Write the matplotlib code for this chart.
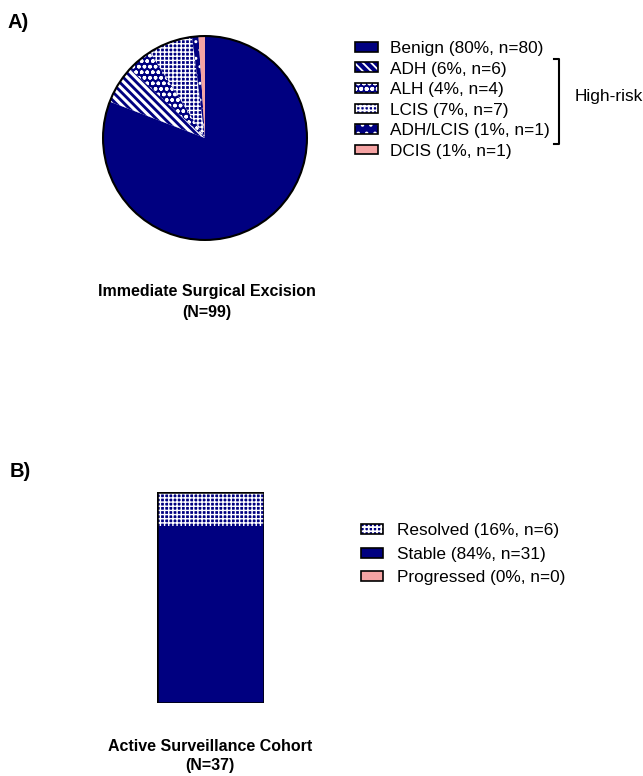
import matplotlib
matplotlib.use("Agg")
import matplotlib.pyplot as plt
from matplotlib.patches import Rectangle, Circle
from matplotlib.lines import Line2D
from matplotlib.legend_handler import HandlerTuple

plt.rcParams['font.family'] = ['Liberation Sans', 'DejaVu Sans']
plt.rcParams['hatch.color'] = 'white'
plt.rcParams['hatch.linewidth'] = 1.3

NAVY = '#000080'
PINK = '#f5a3a3'

# ---- panel A: immediate surgical excision ----
excision_labels = ['Benign', 'ADH', 'ALH', 'LCIS', 'ADH/LCIS', 'DCIS']
excision_counts = [80, 6, 4, 7, 1, 1]
excision_pct = [80, 6, 4, 7, 1, 1]
excision_colors = [NAVY, NAVY, NAVY, NAVY, NAVY, PINK]
excision_hatch = [None, '\\\\\\\\', 'ooo', '++++', '..', None]
excision_total = 99

# ---- panel B: active surveillance ----
surv_labels = ['Resolved', 'Stable', 'Progressed']
surv_counts = [6, 31, 0]
surv_pct = [16, 84, 0]
surv_colors = [NAVY, NAVY, PINK]
surv_hatch = ['++++', None, None]
surv_total = 37

# per-pattern hatch line widths
hatch_lw = {'\\\\\\\\': 2.2, '++++': 1.0, 'ooo': 1.0, '..': 1.0}

W, H = 643, 776
fig = plt.figure(figsize=(W / 100, H / 100), dpi=100)


def fbox(x0, y0, x1, y1):
    # pixel box (top-left origin) -> figure fraction rect
    return [x0 / W, 1 - y1 / H, (x1 - x0) / W, (y1 - y0) / H]


def fpt(x, y):
    return x / W, 1 - y / H


def style_hatch(patch, hatch):
    if hatch in hatch_lw and hasattr(patch, 'set_hatch_linewidth'):
        patch.set_hatch_linewidth(hatch_lw[hatch])


def swatch(fc, hatch):
    fill = Rectangle((0, 0), 1, 1, facecolor=fc, hatch=hatch, linewidth=0)
    style_hatch(fill, hatch)
    edge = Rectangle((0, 0), 1, 1, fill=False, edgecolor='black', linewidth=1.2)
    return (fill, edge)


# pie
cx, cy, r = 205, 138, 104
ax1 = fig.add_axes(fbox(cx - r, cy - r, cx + r, cy + r))
wedges, _ = ax1.pie(excision_counts, colors=excision_colors, startangle=90,
                    counterclock=False, radius=1,
                    wedgeprops=dict(linewidth=0))
for w, h in zip(wedges, excision_hatch):
    if h:
        w.set_hatch(h)
        style_hatch(w, h)
ax1.add_patch(Circle((0, 0), 1, fill=False, edgecolor='black', linewidth=1.5))
ax1.set_xlim(-1.02, 1.02)
ax1.set_ylim(-1.02, 1.02)
ax1.axis('off')

handles_a = [swatch(c, h) for c, h in zip(excision_colors, excision_hatch)]
labels_a = [f'{l} ({p}%, n={n})' for l, p, n in
            zip(excision_labels, excision_pct, excision_counts)]
fig.legend(handles_a, labels_a, loc='upper left', bbox_to_anchor=fpt(355, 41),
           frameon=False, fontsize=12.4, handlelength=1.34, handleheight=0.5,
           handletextpad=0.7, labelspacing=0.32, borderaxespad=0, borderpad=0,
           handler_map={tuple: HandlerTuple(ndivide=1)})

# bracket grouping the high-risk lesions
bx, by0, by1 = 559, 59, 144
bxs = [(bx - 5) / W, bx / W, bx / W, (bx - 5) / W]
bys = [1 - by0 / H, 1 - by0 / H, 1 - by1 / H, 1 - by1 / H]
fig.add_artist(Line2D(bxs, bys, transform=fig.transFigure,
                      color='black', linewidth=1.5))
fig.text(*fpt(575, 96), 'High-risk', fontsize=12.4, va='center', ha='left')

fig.text(*fpt(207, 302), f'Immediate Surgical Excision\n(N={excision_total})',
         fontsize=11.5, fontweight='bold', ha='center', va='center',
         linespacing=1.45)
fig.text(*fpt(8, 22), 'A)', fontsize=14.5, fontweight='bold', va='center')

# stacked bar
ax2 = fig.add_axes(fbox(157, 492, 264, 703))
bottom = 0
order = [1, 0, 2]  # stable at the base, resolved on top
for i in order:
    b = ax2.bar(0, surv_counts[i], width=1, bottom=bottom, color=surv_colors[i],
                hatch=surv_hatch[i], linewidth=0)
    style_hatch(b[0], surv_hatch[i])
    bottom += surv_counts[i]
ax2.bar(0, sum(surv_counts), width=1, fill=False, edgecolor='black', linewidth=1.8)
ax2.set_xlim(-0.5, 0.5)
ax2.set_ylim(0, sum(surv_counts))
ax2.axis('off')

handles_b = [swatch(c, h) for c, h in zip(surv_colors, surv_hatch)]
labels_b = [f'{l} ({p}%, n={n})' for l, p, n in
            zip(surv_labels, surv_pct, surv_counts)]
fig.legend(handles_b, labels_b, loc='upper left', bbox_to_anchor=fpt(361, 523.5),
           frameon=False, fontsize=12.4, handlelength=1.3, handleheight=0.5,
           handletextpad=0.8, labelspacing=0.48, borderaxespad=0, borderpad=0,
           handler_map={tuple: HandlerTuple(ndivide=1)})

fig.text(*fpt(210, 756), f'Active Surveillance Cohort\n(N={surv_total})',
         fontsize=11.5, fontweight='bold', ha='center', va='center',
         linespacing=1.38)
fig.text(*fpt(10, 472), 'B)', fontsize=14.5, fontweight='bold', va='center')

fig.savefig('out.png', dpi=100)
